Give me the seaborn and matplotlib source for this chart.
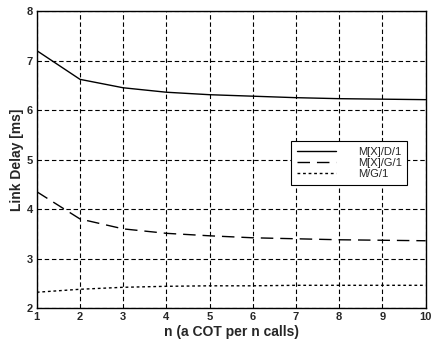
import matplotlib
matplotlib.use("Agg")
import matplotlib.pyplot as plt
import seaborn as sns
import pandas as pd

n = [1, 2, 3, 4, 5, 6, 7, 8, 9, 10]
mxd1 = [7.2, 6.62, 6.45, 6.36, 6.31, 6.28, 6.25, 6.23, 6.22, 6.21]
mxg1 = [4.35, 3.8, 3.6, 3.51, 3.46, 3.42, 3.40, 3.38, 3.37, 3.36]
mg1 = [2.32, 2.38, 2.42, 2.44, 2.45, 2.45, 2.46, 2.46, 2.46, 2.46]
labels = ["M[X]/D/1", "M[X]/G/1", "M/G/1"]

sns.set_style("white")
plt.rcParams['font.family'] = ['Liberation Sans', 'DejaVu Sans']

df = pd.DataFrame({"n": n * 3,
                   "delay": mxd1 + mxg1 + mg1,
                   "series": [labels[0]] * 10 + [labels[1]] * 10 + [labels[2]] * 10})

fig = plt.figure(figsize=(4.33, 3.45), dpi=100)
ax = fig.add_axes([0.085, 0.107, 0.898, 0.861])

for lab in labels:
    sub = df[df.series == lab]
    sns.lineplot(data=sub, x="n", y="delay", ax=ax, color="black", lw=1.0,
                 label=lab, dashes=False)
lines = ax.get_lines()
lines[1].set_dashes([9, 5])
lines[2].set_dashes([2, 2])

ax.set_xlim(1, 10)
ax.set_ylim(2, 8)
ax.set_xticks(range(1, 11))
ax.set_yticks(range(2, 9))
ax.grid(True, color="black", linestyle=(0, (4, 2.5)), linewidth=0.8)
for s in ax.spines.values():
    s.set_color("black")
    s.set_linewidth(1.0)
ax.tick_params(axis="both", direction="in", length=3, labelsize=8, pad=3)
for t in ax.get_xticklabels() + ax.get_yticklabels():
    t.set_fontweight("bold")
ax.set_xlabel("n (a COT per n calls)", fontsize=10, fontweight="bold", labelpad=2)
ax.set_ylabel("Link Delay [ms]", fontsize=10, fontweight="bold", labelpad=2)

leg = ax.legend(loc="upper left", bbox_to_anchor=(0.64, 0.58), fontsize=8,
                frameon=True, fancybox=False, edgecolor="black",
                handlelength=3.5, borderpad=0.5, labelspacing=0.1, handletextpad=2.0)
leg.get_frame().set_linewidth(0.8)
leg.get_frame().set_alpha(1)

fig.savefig("out.png", dpi=100)
